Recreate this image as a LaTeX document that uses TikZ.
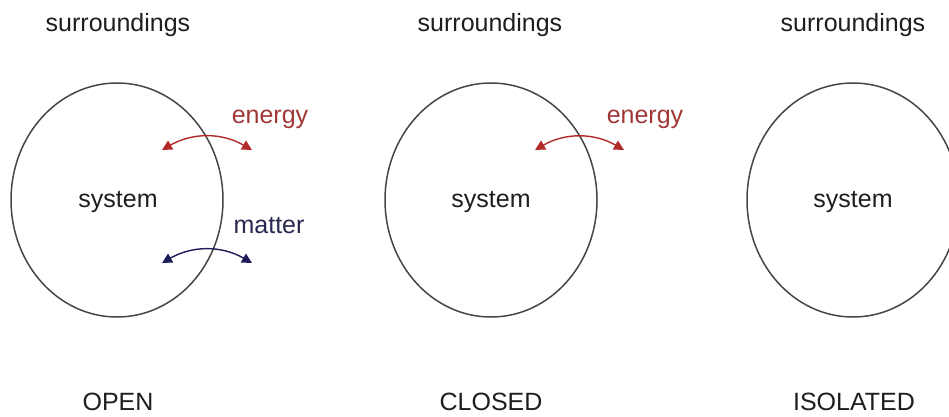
\documentclass[tikz,border=0pt]{standalone}
\usepackage{fontspec}
\setmainfont{Liberation Sans}
\usepackage{tikz}
\usetikzlibrary{
  arrows.meta,
  shapes.geometric,
  positioning
}
\usepackage{xcolor}
\definecolor{cring}{RGB}{70,70,70}
\definecolor{ctext}{RGB}{30,30,30}
\definecolor{cenergy}{RGB}{178,42,42}
\definecolor{lenergy}{RGB}{160,55,55}
\definecolor{cmatter}{RGB}{28,28,88}
\definecolor{lmatter}{RGB}{40,40,80}
\tikzset{
  sysring/.style={
    ellipse, draw=cring, line width=1.5pt,
    minimum width=212pt, minimum height=234pt, inner sep=0pt
  },
  lbl/.style={
    font=\fontsize{25}{30}\selectfont, text=ctext,
    inner sep=0pt, anchor=base
  },
  xfer/.style={
    {Triangle[length=10pt,width=10pt]}-{Triangle[length=10pt,width=10pt]},
    line width=1.4pt, color=#1, bend left=30
  },
  xfer/.default=cenergy
}

\begin{document}
\begin{tikzpicture}[x=1pt,y=1pt]

    \clip (0,0) rectangle (949,416);
    \fill[white] (0,0) rectangle (949,416);

    %% ---- OPEN system ----------------------------------------------
    \node[lbl] (os) at (118,384) {surroundings};
    \node[sysring] (op) at (117,216) {};
    \node[lbl] (osys) at (118,209) {system};
    \node[lbl] (ot) at (118,6) {OPEN};

    \node[lbl, text=lenergy] (oen) at (270,293) {energy};
    \node[lbl, text=lmatter] (oma) at (269,183) {matter};

    \coordinate (oe1) at (162,266);
    \coordinate (oe2) at (252,266);
    \coordinate (om1) at (162,153);
    \coordinate (om2) at (252,153);

    \draw[xfer] (oe1) to (oe2);
    \draw[xfer=cmatter] (om1) to (om2);

    %% ---- CLOSED system --------------------------------------------
    \node[lbl] (cs) at (490,384) {surroundings};
    \node[sysring] (cl) at (491,216) {};
    \node[lbl] (csys) at (491,209) {system};
    \node[lbl] (ct) at (491,6) {CLOSED};

    \node[lbl, text=lenergy] (cen) at (645,293) {energy};

    \coordinate (ce1) at (535,266);
    \coordinate (ce2) at (624,266);

    \draw[xfer] (ce1) to (ce2);

    %% ---- ISOLATED system ------------------------------------------
    \node[lbl] (is) at (853,384) {surroundings};
    \node[sysring] (iso) at (853,216) {};
    \node[lbl] (isys) at (853,209) {system};
    \node[lbl] (it) at (854,6) {ISOLATED};

  \end{tikzpicture}
\end{document}
